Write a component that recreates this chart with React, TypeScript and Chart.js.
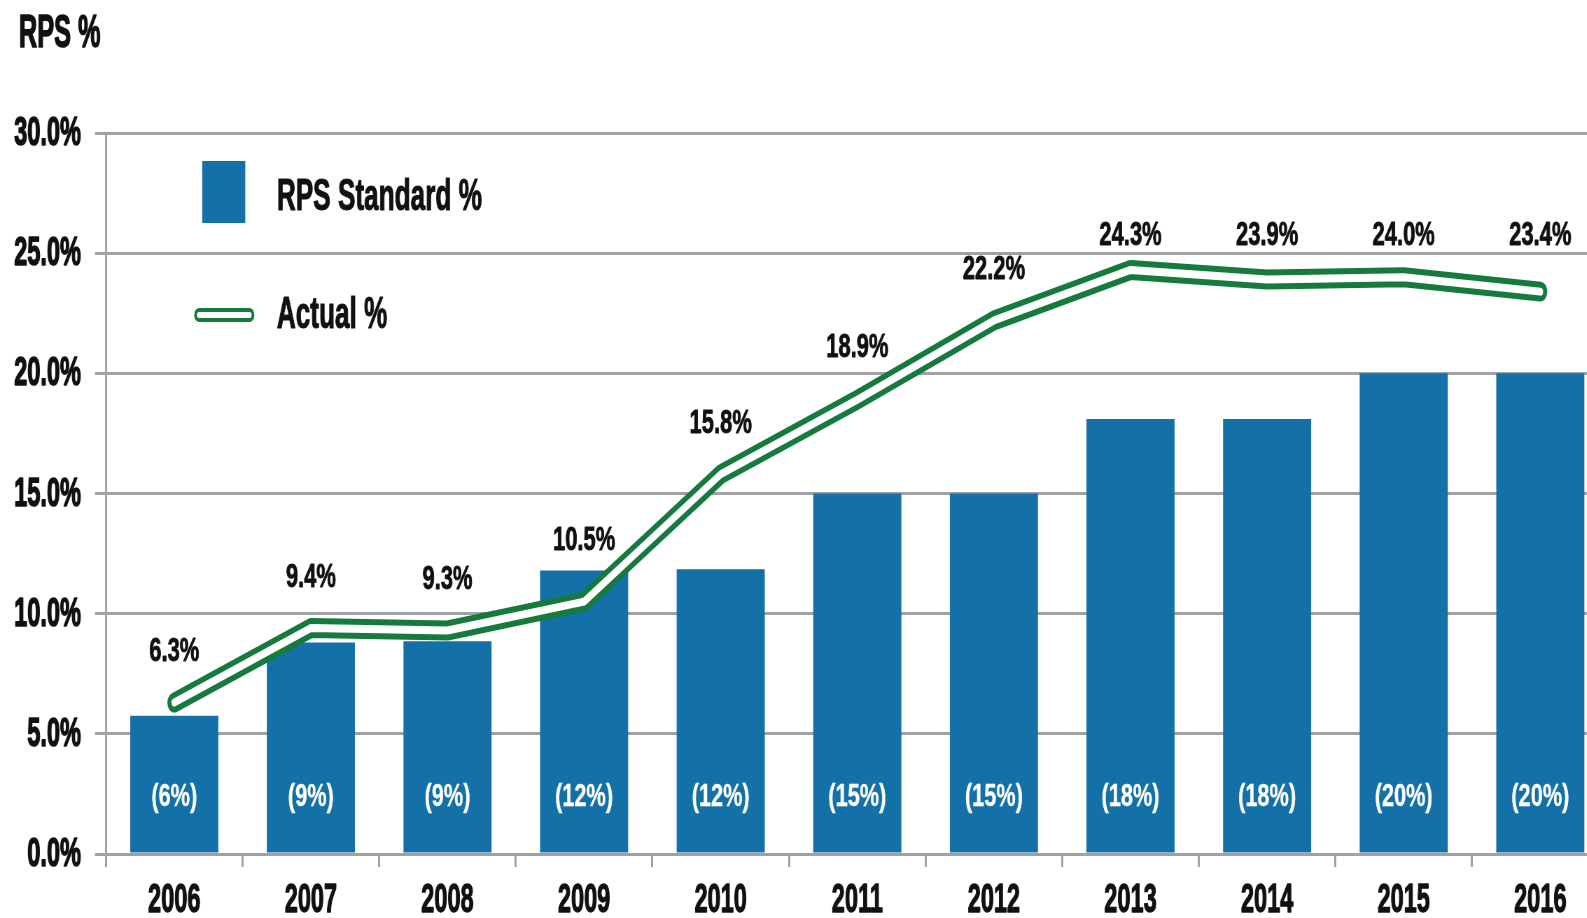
import React, { useEffect, useRef } from "react";
import { Chart, registerables } from "chart.js";

Chart.register(...registerables);

const years = ["2006", "2007", "2008", "2009", "2010", "2011", "2012", "2013", "2014", "2015", "2016"];
const standardBar = [5.75, 8.8, 8.85, 11.8, 11.85, 15.0, 15.0, 18.1, 18.1, 20.0, 20.0];
const standardPct = [6, 9, 9, 12, 12, 15, 15, 18, 18, 20, 20];
const actualPct = [6.3, 9.4, 9.3, 10.5, 15.8, 18.9, 22.2, 24.3, 23.9, 24.0, 23.4];
const yMax = 30;
const yStep = 5;

const S = 0.7; // horizontal squeeze of the whole picture
const W = 2330;
const H = 918;
const FONT = "'Liberation Sans', Arial, sans-serif";
const GRAY = "#a0a1a4";
const BLUE = "#1471a8";
const GREEN = "#177a3d";
const INK = "#111111";

function txt(
  ctx: CanvasRenderingContext2D,
  text: string,
  x: number,
  y: number,
  align: CanvasTextAlign,
  size: number,
  k: number,
  color: string,
  sw: number
) {
  ctx.save();
  ctx.translate(x, y);
  ctx.scale(k, 1);
  ctx.font = `bold ${size}px ${FONT}`;
  ctx.textAlign = align;
  ctx.textBaseline = "alphabetic";
  ctx.fillStyle = color;
  ctx.fillText(text, 0, 0);
  if (sw > 0) {
    ctx.lineWidth = sw;
    ctx.lineJoin = "round";
    ctx.strokeStyle = color;
    ctx.strokeText(text, 0, 0);
  }
  ctx.restore();
}

const decor = {
  id: "decor",
  afterDatasetsDraw(chart: any) {
    const ctx = chart.ctx as CanvasRenderingContext2D;
    const x = chart.scales.x;
    const y = chart.scales.y;
    const { left, top, bottom } = chart.chartArea;
    ctx.save();

    // y tick labels
    y.ticks.forEach((t: any) => {
      txt(ctx, Number(t.value).toFixed(1) + "%", left - 35.7, y.getPixelForValue(t.value) + 12, "right", 41, 0.82, INK, 1.6);
    });
    // x tick labels
    x.getLabels().forEach((lab: string, i: number) => {
      txt(ctx, lab, x.getPixelForValue(i), bottom + 58, "center", 41, 0.82, INK, 1.3);
    });

    // labels inside bars
    chart.getDatasetMeta(0).data.forEach((bar: any, i: number) => {
      txt(ctx, `(${standardPct[i]}%)`, bar.x, y.getPixelForValue(0) - 48, "center", 32, 0.97, "#ffffff", 0.4);
    });

    // labels above line: clear the line just right of the point; the top group sits on one row
    const pts = chart.getDatasetMeta(1).data as any[];
    const lineYAt = (px: number) => {
      if (px <= pts[0].x) return pts[0].y;
      for (let j = 1; j < pts.length; j++) {
        if (px <= pts[j].x) {
          const a = pts[j - 1], b = pts[j];
          return a.y + ((b.y - a.y) * (px - a.x)) / (b.x - a.x);
        }
      }
      return pts[pts.length - 1].y;
    };
    const peak = Math.max(...actualPct);
    pts.forEach((pt: any, i: number) => {
      let ly = Math.min(pt.y - 41, lineYAt(pt.x + 36) - 28);
      if (peak - actualPct[i] < 2) ly = y.getPixelForValue(25.35);
      txt(ctx, actualPct[i].toFixed(1) + "%", pt.x, ly, "center", 33, 0.95, INK, 0.9);
    });

    // legend
    ctx.fillStyle = BLUE;
    ctx.fillRect(left + 137.5, top + 28, 61.5, 62);
    ctx.lineCap = "round";
    ctx.strokeStyle = GREEN;
    ctx.lineWidth = 14;
    ctx.beginPath();
    ctx.moveTo(left + 133, top + 182);
    ctx.lineTo(left + 205, top + 182);
    ctx.stroke();
    ctx.strokeStyle = "#ffffff";
    ctx.lineWidth = 6;
    ctx.stroke();

    txt(ctx, "RPS Standard %", left + 244, top + 77, "left", 44, 0.85, INK, 1.1);
    txt(ctx, "Actual %", left + 244, top + 195, "left", 44, 0.85, INK, 1.1);

    // title
    txt(ctx, "RPS %", 27, 47, "left", 47, 0.77, INK, 1.6);
    ctx.restore();
  },
};

export default function App() {
  const ref = useRef<HTMLCanvasElement | null>(null);

  useEffect(() => {
    if (!ref.current) return;
    const chart = new Chart(ref.current, {
      type: "bar",
      data: {
        labels: years,
        datasets: [
          {
            type: "bar",
            label: "RPS Standard %",
            data: standardBar,
            backgroundColor: BLUE,
            borderWidth: 0,
            categoryPercentage: 1,
            barPercentage: 0.645,
            order: 3,
          },
          {
            type: "line",
            label: "Actual %",
            data: actualPct,
            borderColor: GREEN,
            borderWidth: 20,
            borderCapStyle: "round",
            borderJoinStyle: "round",
            pointRadius: 0,
            tension: 0,
            fill: false,
            order: 2,
          },
          {
            type: "line",
            label: "inner",
            data: actualPct,
            borderColor: "#ffffff",
            borderWidth: 8,
            borderCapStyle: "round",
            borderJoinStyle: "round",
            pointRadius: 0,
            tension: 0,
            fill: false,
            order: 1,
          },
        ],
      } as any,
      options: {
        responsive: false,
        maintainAspectRatio: false,
        animation: false,
        devicePixelRatio: 1,
        events: [],
        layout: { padding: { top: 133, right: W - 2298, bottom: 0, left: 0 } },
        plugins: {
          legend: { display: false },
          title: { display: false },
          tooltip: { enabled: false },
        },
        scales: {
          x: {
            type: "category",
            offset: true,
            grid: {
              offset: true,
              drawOnChartArea: false,
              drawTicks: true,
              tickLength: 13,
              lineWidth: 3,
              color: GRAY,
            },
            border: { display: true, color: GRAY, width: 3 },
            ticks: { display: false },
            afterFit: (s: any) => {
              s.height = 64;
            },
          },
          y: {
            min: 0,
            max: yMax,
            grid: {
              drawTicks: true,
              tickLength: 15.7,
              lineWidth: 3,
              color: GRAY,
            },
            border: { display: true, color: GRAY, width: 3 },
            ticks: { display: false, stepSize: yStep },
            afterFit: (s: any) => {
              s.width = 151.4;
            },
          },
        },
      } as any,
      plugins: [decor],
    });
    return () => chart.destroy();
  }, []);

  return (
    <div
      style={{
        position: "fixed",
        left: 0,
        top: 0,
        width: "100vw",
        height: "100vh",
        overflow: "hidden",
        background: "#ffffff",
      }}
    >
      <div style={{ width: W, height: H, transform: `scaleX(${S})`, transformOrigin: "0 0" }}>
        <canvas ref={ref} width={W} height={H} style={{ display: "block", width: W, height: H }} />
      </div>
    </div>
  );
}
